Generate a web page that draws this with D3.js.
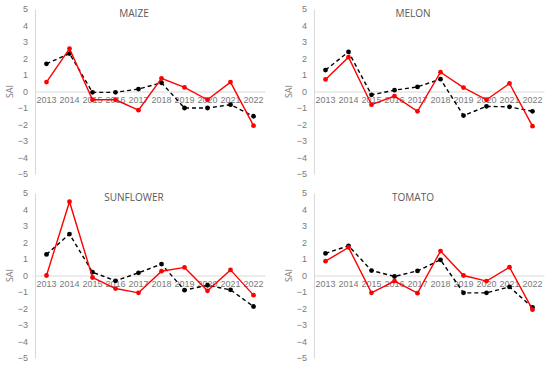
<!DOCTYPE html>
<html>
<head>
<meta charset="utf-8">
<script src="https://cdn.jsdelivr.net/npm/d3@7"></script>
<style>
  body { margin: 0; background: #fff; }
  svg { display: block; font-family: "Open Sans", "DejaVu Sans", sans-serif; }
</style>
</head>
<body>
<div id="chart"></div>
<script>
var years = ["2013", "2014", "2015", "2016", "2017", "2018", "2019", "2020", "2021", "2022"];
var yTicks = [5, 4, 3, 2, 1, 0, -1, -2, -3, -4, -5];
var crops = ["MAIZE", "MELON", "SUNFLOWER", "TOMATO"];

var maizeRed = [0.57, 2.6, -0.5, -0.5, -1.13, 0.8, 0.25, -0.5, 0.57, -2.07];
var maizeBlack = [1.68, 2.3, -0.05, -0.05, 0.15, 0.53, -1.0, -1.0, -0.8, -1.5];
var melonRed = [0.73, 2.08, -0.8, -0.28, -1.2, 1.17, 0.24, -0.5, 0.49, -2.1];
var melonBlack = [1.3, 2.4, -0.2, 0.08, 0.28, 0.75, -1.46, -0.9, -0.93, -1.2];
var sunflowerRed = [0.0, 4.47, -0.12, -0.79, -1.05, 0.26, 0.49, -0.93, 0.34, -1.19];
var sunflowerBlack = [1.28, 2.51, 0.2, -0.32, 0.16, 0.69, -0.89, -0.59, -0.87, -1.88];
var tomatoRed = [0.87, 1.7, -1.05, -0.34, -1.07, 1.48, 0.0, -0.34, 0.5, -2.07];
var tomatoBlack = [1.34, 1.8, 0.3, -0.06, 0.28, 0.95, -1.05, -1.05, -0.69, -1.94];

var redSeries = [maizeRed, melonRed, sunflowerRed, tomatoRed];
var blackSeries = [maizeBlack, melonBlack, sunflowerBlack, tomatoBlack];

var width = 550, height = 368;
var panelW = 275, panelH = 184;
var margin = { left: 35, right: 10, top: 9, bottom: 10 };

var svg = d3.select("#chart").append("svg")
  .attr("width", width)
  .attr("height", height);

/*
  one small panel per crop, laid out 2 x 2
*/
crops.forEach(function(crop, k) {
  var px = (k % 2) * panelW + (k % 2) * 4;
  var py = Math.floor(k / 2) * panelH;

  var x = d3.scaleBand()
    .domain(years)
    .range([margin.left, panelW - margin.right]);
  var y = d3.scaleLinear()
    .domain([-5, 5])
    .range([panelH - margin.bottom, margin.top]);

  var g = svg.append("g").attr("transform", "translate(" + px + "," + py + ")");

  // vertical axis
  var yAxis = g.append("g")
    .attr("transform", "translate(" + margin.left + ",0)")
    .call(d3.axisLeft(y).tickValues(yTicks).tickSize(0).tickPadding(7)
      .tickFormat(function(d) { return d < 0 ? "\u2212" + Math.abs(d) : d; }));
  yAxis.select(".domain").attr("stroke", "#d9d9d9").attr("stroke-width", 1);
  yAxis.selectAll("text").attr("fill", "#7a7a7a").attr("font-size", 9);

  // category axis along zero
  var xAxis = g.append("g")
    .attr("transform", "translate(0," + y(0) + ")")
    .call(d3.axisBottom(x).tickSize(0).tickPadding(5));
  xAxis.select(".domain").attr("stroke", "#d9d9d9").attr("stroke-width", 1);
  xAxis.selectAll("text").attr("fill", "#7a7a7a").attr("font-size", 9);

  g.append("text")
    .attr("x", 134)
    .attr("y", 17)
    .attr("text-anchor", "middle")
    .attr("fill", "#595959")
    .attr("font-size", 10)
    .text(crop);

  g.append("text")
    .attr("transform", "translate(13," + y(0) + ") rotate(-90)")
    .attr("text-anchor", "middle")
    .attr("fill", "#7a7a7a")
    .attr("font-size", 9)
    .text("SAI");

  var line = d3.line()
    .x(function(d, i) { return x(years[i]) + x.bandwidth() / 2; })
    .y(function(d) { return y(d); });

  var layers = [
    { data: blackSeries[k], color: "#000", dash: "4,3" },
    { data: redSeries[k], color: "#ff0000", dash: null }
  ];

  layers.forEach(function(s) {
    g.append("path")
      .datum(s.data)
      .attr("fill", "none")
      .attr("stroke", s.color)
      .attr("stroke-width", 1.4)
      .attr("stroke-dasharray", s.dash)
      .attr("d", line);

    g.selectAll(null)
      .data(s.data)
      .enter().append("circle")
      .attr("cx", function(d, i) { return x(years[i]) + x.bandwidth() / 2; })
      .attr("cy", function(d) { return y(d); })
      .attr("r", 2.4)
      .attr("fill", s.color);
  });
});
</script>
</body>
</html>
